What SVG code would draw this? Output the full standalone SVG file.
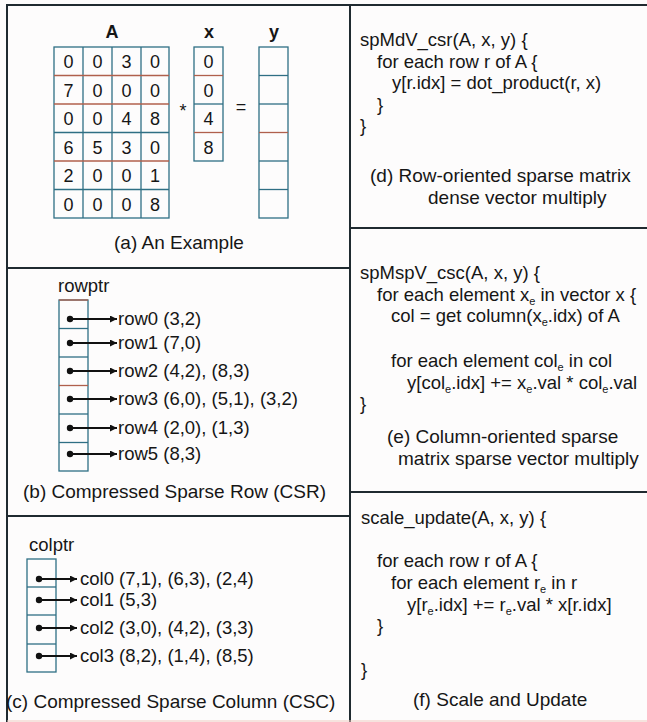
<svg xmlns="http://www.w3.org/2000/svg" width="647" height="722" viewBox="0 0 647 722">
<defs>
<style>
text{font-family:"Liberation Sans",Arial,sans-serif;fill:#161616;}
.d{font-size:18px;text-anchor:middle;}
.lbl{font-size:18px;font-weight:bold;text-anchor:middle;}
.cap{font-size:19px;}
.code{font-size:18.5px;}
.lst{font-size:18.5px;}
.sub{font-size:11px;}
.frame{stroke:#1f2a30;stroke-width:2;fill:none;}
.gt{stroke:#2f6f84;stroke-width:1.3;fill:none;}
.gr{stroke:#b0604c;stroke-width:1.3;fill:none;}
.arr{stroke:#111;stroke-width:2;fill:none;}
.dot{fill:#111;}
</style>
<marker id="ah" viewBox="0 0 10 10" refX="10" refY="5" markerWidth="8" markerHeight="7" markerUnits="userSpaceOnUse" orient="auto"><path d="M0,0 L10,5 L0,10 z" fill="#111"/></marker>
</defs>
<rect x="0" y="0" width="647" height="722" fill="#fdfcfc"/>

<g id="frame">
<line class="frame" x1="7" y1="5" x2="647" y2="5"/>
<line class="frame" x1="7" y1="4" x2="7" y2="722"/>
<line class="frame" x1="350" y1="4" x2="350" y2="722"/>
<line class="frame" x1="7" y1="268" x2="350" y2="268"/>
<line class="frame" x1="7" y1="516" x2="350" y2="516"/>
<line class="frame" x1="350" y1="228" x2="647" y2="228"/>
<line class="frame" x1="350" y1="492" x2="647" y2="492"/>
<line x1="7" y1="721" x2="647" y2="721" stroke="#efc9c0" stroke-width="1.2"/>
</g>

<g id="panel-a">
<text class="lbl" x="112" y="38">A</text>
<text class="lbl" x="209" y="38">x</text>
<text class="lbl" x="274" y="38">y</text>
<g id="matrix-A">
<rect class="gt" x="54" y="47" width="115" height="171"/>
<line class="gt" x1="83" y1="47" x2="83" y2="218"/>
<line class="gt" x1="112" y1="47" x2="112" y2="218"/>
<line class="gt" x1="141" y1="47" x2="141" y2="218"/>
<line class="gr" x1="54" y1="75.5" x2="169" y2="75.5"/>
<line class="gr" x1="54" y1="104" x2="169" y2="104"/>
<line class="gt" x1="54" y1="132.5" x2="169" y2="132.5"/>
<line class="gr" x1="54" y1="161" x2="169" y2="161"/>
<line class="gt" x1="54" y1="189.5" x2="169" y2="189.5"/>
<text class="d" x="68.5" y="68">0</text><text class="d" x="97.5" y="68">0</text><text class="d" x="126.5" y="68">3</text><text class="d" x="155" y="68">0</text>
<text class="d" x="68.5" y="96.5">7</text><text class="d" x="97.5" y="96.5">0</text><text class="d" x="126.5" y="96.5">0</text><text class="d" x="155" y="96.5">0</text>
<text class="d" x="68.5" y="125">0</text><text class="d" x="97.5" y="125">0</text><text class="d" x="126.5" y="125">4</text><text class="d" x="155" y="125">8</text>
<text class="d" x="68.5" y="153.5">6</text><text class="d" x="97.5" y="153.5">5</text><text class="d" x="126.5" y="153.5">3</text><text class="d" x="155" y="153.5">0</text>
<text class="d" x="68.5" y="182">2</text><text class="d" x="97.5" y="182">0</text><text class="d" x="126.5" y="182">0</text><text class="d" x="155" y="182">1</text>
<text class="d" x="68.5" y="210.5">0</text><text class="d" x="97.5" y="210.5">0</text><text class="d" x="126.5" y="210.5">0</text><text class="d" x="155" y="210.5">8</text>
</g>
<text class="d" x="183" y="117">*</text>
<g id="vector-x">
<rect class="gt" x="194" y="47" width="29" height="114"/>
<line class="gr" x1="194" y1="75.5" x2="223" y2="75.5"/>
<line class="gt" x1="194" y1="104" x2="223" y2="104"/>
<line class="gr" x1="194" y1="132.5" x2="223" y2="132.5"/>
<text class="d" x="208.5" y="68">0</text>
<text class="d" x="208.5" y="96.5">0</text>
<text class="d" x="208.5" y="125">4</text>
<text class="d" x="208.5" y="153.5">8</text>
</g>
<text class="d" x="241" y="113">=</text>
<g id="vector-y">
<rect class="gt" x="259" y="47" width="29" height="171"/>
<line class="gt" x1="259" y1="75.5" x2="288" y2="75.5"/>
<line class="gt" x1="259" y1="104" x2="288" y2="104"/>
<line class="gr" x1="259" y1="132.5" x2="288" y2="132.5"/>
<line class="gt" x1="259" y1="161" x2="288" y2="161"/>
<line class="gt" x1="259" y1="189.5" x2="288" y2="189.5"/>
</g>
<text class="cap" x="179" y="249" text-anchor="middle">(a) An Example</text>
</g>

<g id="panel-b">
<text class="lst" x="58" y="292">rowptr</text>
<g id="rowptr">
<rect class="gt" x="59" y="300" width="29" height="171"/>
<line class="gr" x1="59" y1="300" x2="88" y2="300"/>
<line class="gt" x1="59" y1="328.5" x2="88" y2="328.5"/>
<line class="gt" x1="59" y1="357" x2="88" y2="357"/>
<line class="gr" x1="59" y1="385.5" x2="88" y2="385.5"/>
<line class="gt" x1="59" y1="414" x2="88" y2="414"/>
<line class="gt" x1="59" y1="442.5" x2="88" y2="442.5"/>
</g>
<text class="lst" x="118" y="325">row0  (3,2)</text>
<text class="lst" x="118" y="349">row1  (7,0)</text>
<text class="lst" x="118" y="377">row2 (4,2), (8,3)</text>
<text class="lst" x="118" y="405">row3 (6,0), (5,1), (3,2)</text>
<text class="lst" x="118" y="434">row4 (2,0), (1,3)</text>
<text class="lst" x="118" y="460">row5 (8,3)</text>
<text class="cap" x="23" y="498">(b) Compressed Sparse Row (CSR)</text>
</g>

<g id="panel-c">
<text class="lst" x="29" y="551">colptr</text>
<g id="colptr">
<rect class="gt" x="27" y="559" width="29" height="113"/>
<line class="gt" x1="27" y1="587" x2="56" y2="587"/>
<line class="gt" x1="27" y1="615" x2="56" y2="615"/>
<line class="gt" x1="27" y1="644" x2="56" y2="644"/>
</g>
<text class="lst" x="80" y="585">col0  (7,1), (6,3), (2,4)</text>
<text class="lst" x="80" y="606">col1  (5,3)</text>
<text class="lst" x="80" y="634">col2  (3,0), (4,2), (3,3)</text>
<text class="lst" x="80" y="662">col3  (8,2), (1,4), (8,5)</text>
<text class="cap" x="6" y="708">(c) Compressed Sparse Column (CSC)</text>
</g>

<g id="connectors">
<circle class="dot" cx="70" cy="319" r="3.2"/><line class="arr" x1="70" y1="319" x2="117" y2="319" marker-end="url(#ah)"/>
<circle class="dot" cx="70" cy="343" r="3.2"/><line class="arr" x1="70" y1="343" x2="117" y2="343" marker-end="url(#ah)"/>
<circle class="dot" cx="70" cy="371" r="3.2"/><line class="arr" x1="70" y1="371" x2="117" y2="371" marker-end="url(#ah)"/>
<circle class="dot" cx="70" cy="399" r="3.2"/><line class="arr" x1="70" y1="399" x2="117" y2="399" marker-end="url(#ah)"/>
<circle class="dot" cx="70" cy="428" r="3.2"/><line class="arr" x1="70" y1="428" x2="117" y2="428" marker-end="url(#ah)"/>
<circle class="dot" cx="70" cy="454" r="3.2"/><line class="arr" x1="70" y1="454" x2="117" y2="454" marker-end="url(#ah)"/>
<circle class="dot" cx="39" cy="579" r="3.2"/><line class="arr" x1="39" y1="579" x2="77" y2="579" marker-end="url(#ah)"/>
<circle class="dot" cx="39" cy="600" r="3.2"/><line class="arr" x1="39" y1="600" x2="77" y2="600" marker-end="url(#ah)"/>
<circle class="dot" cx="39" cy="628" r="3.2"/><line class="arr" x1="39" y1="628" x2="77" y2="628" marker-end="url(#ah)"/>
<circle class="dot" cx="39" cy="656" r="3.2"/><line class="arr" x1="39" y1="656" x2="77" y2="656" marker-end="url(#ah)"/>
</g>

<g id="panel-d">
<text class="code" x="360" y="46">spMdV_csr(A, x, y) {</text>
<text class="code" x="377" y="67.5">for each row r of A {</text>
<text class="code" x="392" y="89">y[r.idx]  = dot_product(r, x)</text>
<text class="code" x="377" y="110.5">}</text>
<text class="code" x="360" y="132">}</text>
<text class="cap" x="370" y="182">(d) Row-oriented sparse matrix</text>
<text class="cap" x="428" y="204">dense vector multiply</text>
</g>

<g id="panel-e">
<text class="code" x="360" y="279">spMspV_csc(A, x, y) {</text>
<text class="code" x="377" y="300.5">for each element x<tspan class="sub" dy="4">e</tspan><tspan dy="-4"> in vector x {</tspan></text>
<text class="code" x="391" y="322">col = get column(x<tspan class="sub" dy="4">e</tspan><tspan dy="-4">.idx) of A</tspan></text>
<text class="code" x="391" y="367">for each element col<tspan class="sub" dy="4">e</tspan><tspan dy="-4"> in col</tspan></text>
<text class="code" x="407" y="389">y[col<tspan class="sub" dy="4">e</tspan><tspan dy="-4">.idx] += x</tspan><tspan class="sub" dy="4">e</tspan><tspan dy="-4">.val  * col</tspan><tspan class="sub" dy="4">e</tspan><tspan dy="-4">.val</tspan></text>
<text class="code" x="360" y="410">}</text>
<text class="cap" x="387" y="443">(e) Column-oriented sparse</text>
<text class="cap" x="398" y="465">matrix sparse vector multiply</text>
</g>

<g id="panel-f">
<text class="code" x="361" y="524">scale_update(A, x, y) {</text>
<text class="code" x="377" y="567">for each row r of A {</text>
<text class="code" x="391" y="589">for each element r<tspan class="sub" dy="4">e</tspan><tspan dy="-4"> in r</tspan></text>
<text class="code" x="407" y="611">y[r<tspan class="sub" dy="4">e</tspan><tspan dy="-4">.idx] += r</tspan><tspan class="sub" dy="4">e</tspan><tspan dy="-4">.val * x[r.idx]</tspan></text>
<text class="code" x="377" y="632">}</text>
<text class="code" x="361" y="676">}</text>
<text class="cap" x="413" y="706">(f) Scale and Update</text>
</g>
</svg>
